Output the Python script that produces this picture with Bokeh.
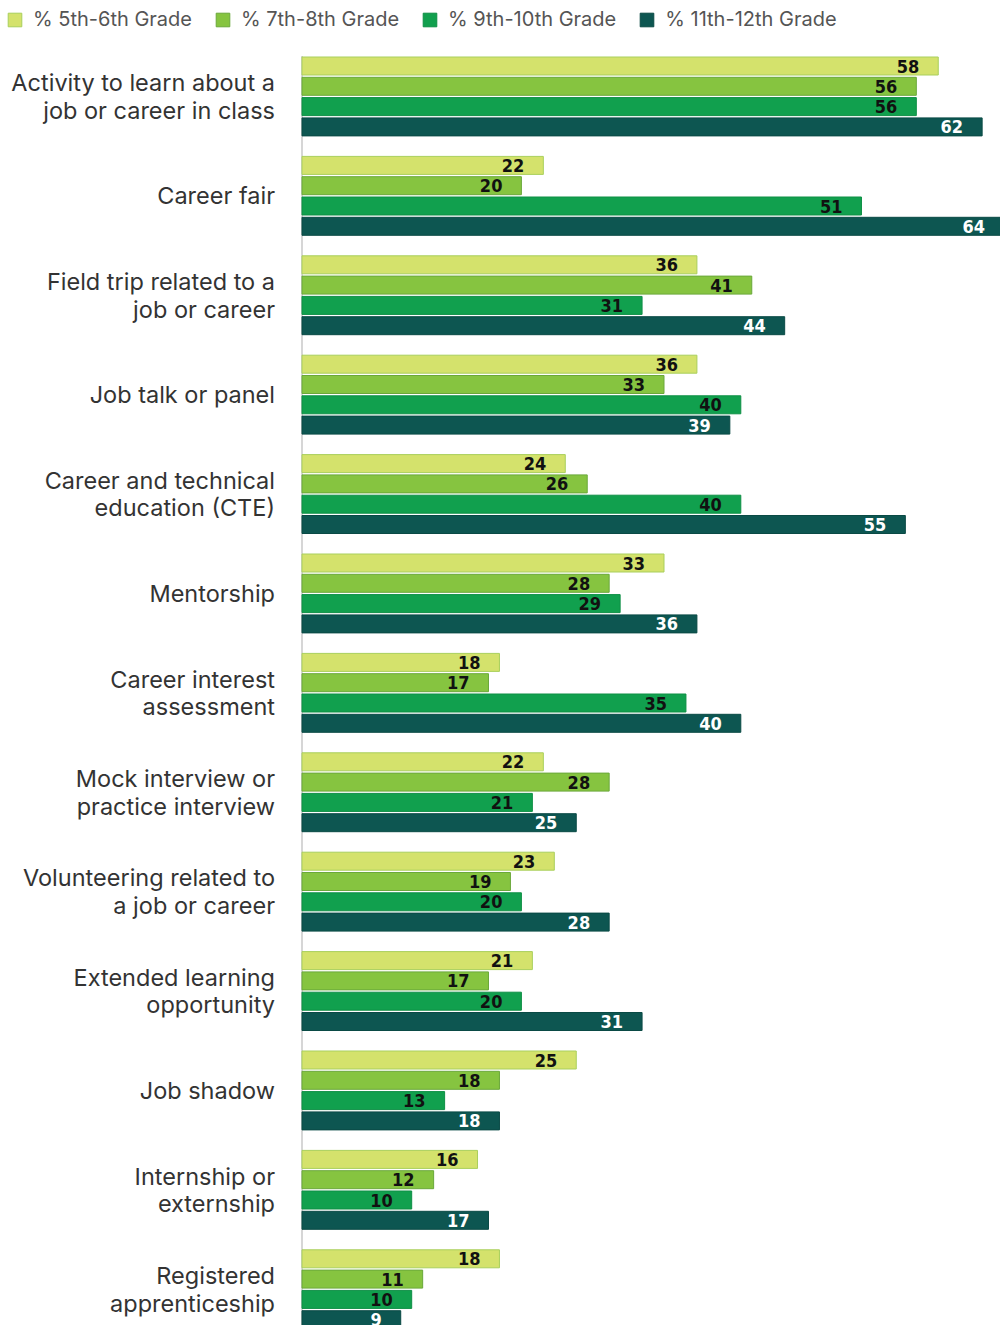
from bokeh.plotting import figure
from bokeh.models import ColumnDataSource, Range1d, Legend, LegendItem
from bokeh.core.properties import value
from bokeh.embed import file_html
from bokeh.resources import INLINE

categories = [
    "Activity to learn about a\njob or career in class",
    "Career fair",
    "Field trip related to a\njob or career",
    "Job talk or panel",
    "Career and technical\neducation (CTE)",
    "Mentorship",
    "Career interest\nassessment",
    "Mock interview or\npractice interview",
    "Volunteering related to\na job or career",
    "Extended learning\nopportunity",
    "Job shadow",
    "Internship or\nexternship",
    "Registered\napprenticeship",
]
series_names = ["% 5th-6th Grade", "% 7th-8th Grade", "% 9th-10th Grade", "% 11th-12th Grade"]
g56 = [58, 22, 36, 36, 24, 33, 18, 22, 23, 21, 25, 16, 18]
g78 = [56, 20, 41, 33, 26, 28, 17, 28, 19, 17, 18, 12, 11]
g910 = [56, 51, 31, 40, 40, 29, 35, 21, 20, 20, 13, 10, 10]
g1112 = [62, 64, 44, 39, 55, 36, 40, 25, 28, 31, 18, 17, 9]
series_values = [g56, g78, g910, g1112]

fills = ["#d4e26c", "#86c440", "#11a04e", "#0d5651"]
lines = ["#a9cf5c", "#6aa83a", "#0e8f45", "#0a4a45"]
label_colors = ["#111111", "#111111", "#111111", "#ffffff"]

W, H = 1000, 1325
px_per_unit = 10.97
axis_px = 301.5
group_px = 99.4
first_center_px = 65.5
bar_step = 20.3 / group_px
bar_h = 18.0 / group_px

p = figure(width=W, height=H, output_backend="svg", toolbar_location=None,
           x_range=Range1d(-axis_px / px_per_unit, (W - axis_px) / px_per_unit),
           y_range=Range1d((H - first_center_px) / group_px, -first_center_px / group_px),
           min_border=0, min_border_left=0, min_border_right=0, min_border_top=0, min_border_bottom=0)
p.axis.visible = False
p.grid.visible = False
p.outline_line_color = None
p.background_fill_color = "white"
p.border_fill_color = "white"

num_font = value("'DejaVu Sans Condensed', 'Liberation Sans', sans-serif")
n = len(categories)

# axis line (from top of first bar to bottom)
p.segment(x0=[0], y0=[-bar_h / 2 - 0.01], x1=[0], y1=[n + 1],
          line_color="#c8c8c8", line_width=1.5)

legend_items = []
for j, vals in enumerate(series_values):
    ys = [i + j * bar_step for i in range(n)]
    src = ColumnDataSource(dict(y=ys, v=vals, lab=[str(v) for v in vals]))
    r = p.hbar(y="y", left=0, right="v", height=bar_h, source=src,
               fill_color=fills[j], line_color=lines[j], line_width=1)
    p.text(x="v", y="y", text="lab", source=src, x_offset=-19, y_offset=0,
           text_align="right", text_baseline="middle",
           text_font=num_font, text_font_style="bold",
           text_font_size="18px", text_color=label_colors[j])
    legend_items.append(LegendItem(label=series_names[j], renderers=[r]))

# category labels
centers = [i + 1.5 * bar_step for i in range(n)]
csrc = ColumnDataSource(dict(x=[0] * n, y=centers, t=categories))
p.text(x="x", y="y", text="t", source=csrc, x_offset=-27, text_align="right",
       text_baseline="middle", text_font=value("Inter"), text_font_size="23.5px",
       text_color="#333333", text_line_height=0.95)

legend = Legend(items=legend_items, orientation="horizontal", location=(-2, H - 39),
                glyph_width=17, glyph_height=17, label_standoff=10, spacing=22,
                padding=8, margin=0, border_line_alpha=0, background_fill_alpha=0,
                label_text_font="Inter", label_text_font_size="20px",
                label_text_color="#555555")
p.add_layout(legend, "center")

open("out.html", "w").write(file_html(p, INLINE))
